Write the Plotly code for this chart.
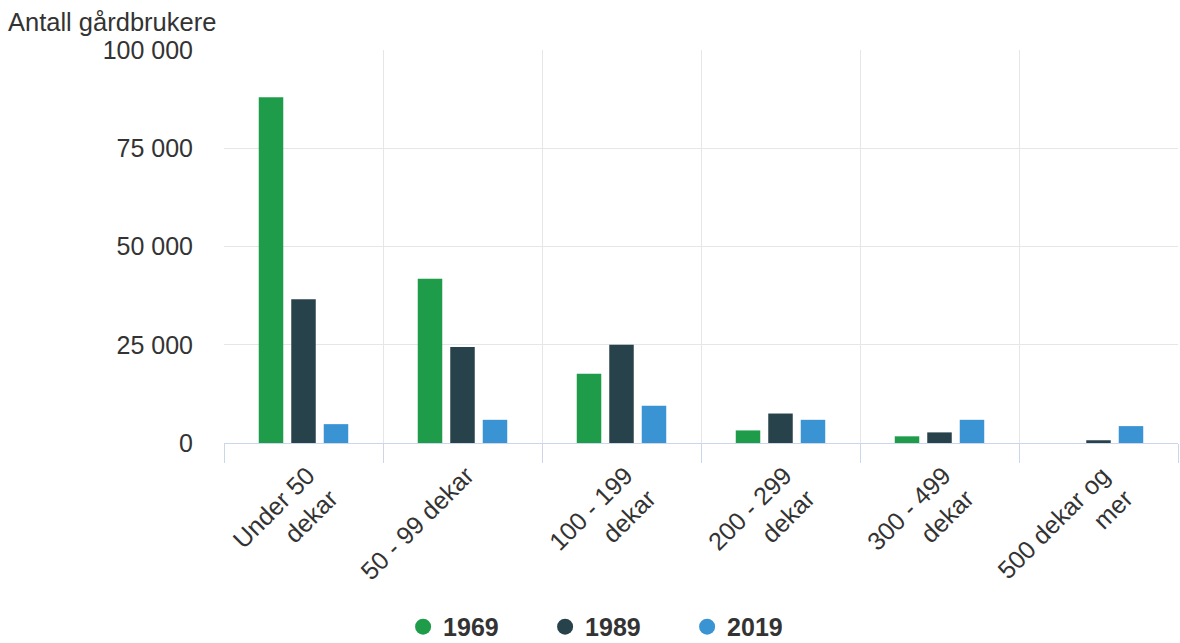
import plotly.graph_objects as go

categories = ["Under 50<br>dekar", "50 - 99 dekar", "100 - 199<br>dekar",
              "200 - 299<br>dekar", "300 - 499<br>dekar", "500 dekar og<br>mer"]
years = ["1969", "1989", "2019"]
v1969 = [88000, 41800, 17600, 3200, 1700, 0]
v1989 = [36600, 24400, 25000, 7500, 2700, 700]
v2019 = [4800, 5900, 9500, 5900, 5900, 4300]
colors = ["#1e9c4a", "#27424a", "#3a94d3"]
ytickvals = [0, 25000, 50000, 75000, 100000]
yticktext = ["0", "25 000", "50 000", "75 000", "100 000"]

FONT = "Liberation Sans, Arial, sans-serif"
fig = go.Figure()
for name, vals, col in zip(years, [v1969, v1989, v2019], colors):
    fig.add_trace(go.Bar(x=categories, y=vals, name=name, marker_color=col,
                         marker_line_width=0, showlegend=False))
for name, col in zip(years, colors):
    fig.add_trace(go.Scatter(x=[None], y=[None], mode="markers", name=name,
                             marker=dict(symbol="circle", size=22, color=col)))

fig.update_layout(
    width=1180, height=643,
    margin=dict(l=224, r=2, t=50, b=200, autoexpand=False),
    paper_bgcolor="white", plot_bgcolor="white",
    barmode="group", bargap=0.387, bargroupgap=0.246,
    font=dict(family=FONT, size=25, color="#333333"),
    legend=dict(orientation="h", x=0.411, xanchor="center", y=-0.468, yanchor="middle",
                font=dict(family=FONT, size=25, color="#333333", weight="bold"),
                itemsizing="trace", entrywidth=97, entrywidthmode="pixels"),
    annotations=[dict(text="Antall gårdbrukere", xref="paper", yref="paper",
                      x=-0.2285, y=1.072, xanchor="left", yanchor="middle",
                      showarrow=False, font=dict(family=FONT, size=25.5, color="#333333"))],
)
fig.update_xaxes(type="category", tickangle=-45, tickson="boundaries",
                 ticks="outside", ticklen=19, tickcolor="#ccd6eb", tickwidth=1,
                 showline=True, linecolor="#ccd6eb", linewidth=1,
                 showgrid=True, gridcolor="#e6e6e6", gridwidth=1,
                 ticklabelstandoff=7, ticklabelshift=4,
                 tickfont=dict(family=FONT, size=25, color="#333333"))
fig.update_yaxes(range=[0, 100000], tickvals=ytickvals, ticktext=yticktext,
                 showgrid=True, gridcolor="#e6e6e6", gridwidth=1, zeroline=False,
                 showline=False, ticklabelstandoff=30,
                 tickfont=dict(family=FONT, size=25, color="#333333"))
fig.write_html("out.html")
